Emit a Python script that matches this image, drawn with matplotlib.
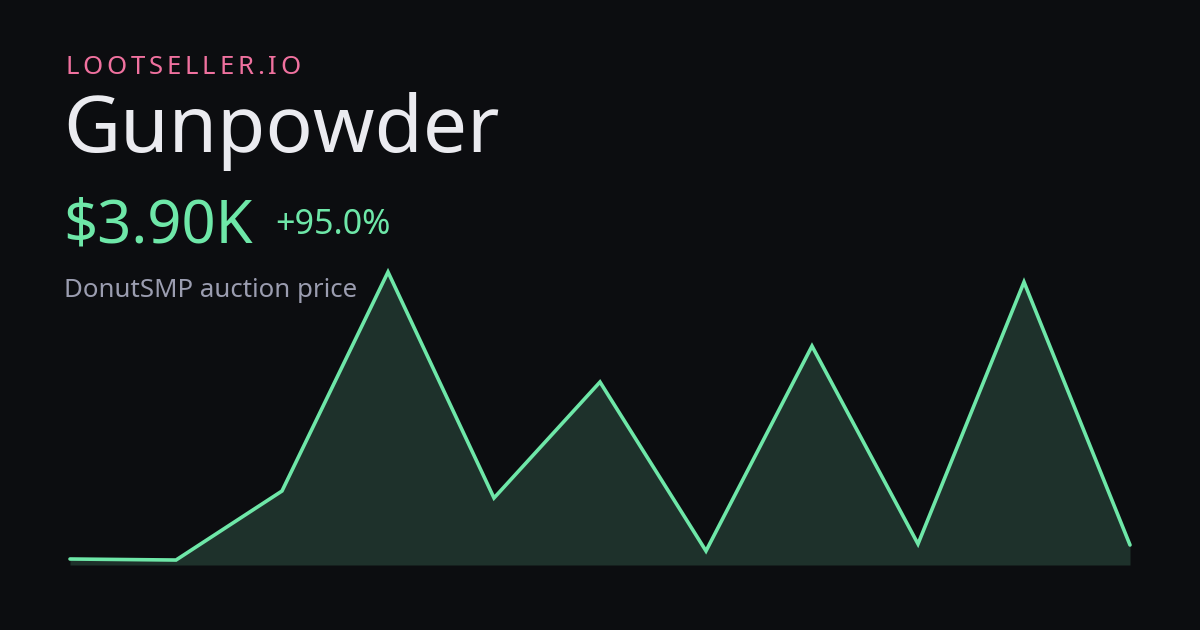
import matplotlib
matplotlib.use("Agg")
import matplotlib.pyplot as plt

# price history (dollars)
prices = [2000, 1860, 11230, 40950, 10280, 26020, 3090, 30900, 4040, 39590, 3900]
y_floor = 1186

site = "LOOTSELLER.IO"
item = "Gunpowder"
price_label = "$3.90K"
change_label = "+95.0%"
subtitle = "DonutSMP auction price"

bg = "#0c0d10"
green = "#6ee7a8"
fill_c = "#1e312b"

plt.rcParams['font.family'] = ['Noto Sans', 'DejaVu Sans']

W, H = 1200, 630
fig = plt.figure(figsize=(12, 6.3), dpi=100, facecolor=bg)

def px(x, y):
    return x / W, 1 - y / H

# chart area
ax = fig.add_axes([70 / W, (H - 565) / H, 1060 / W, 293 / H])
ax.set_facecolor(bg)
xs = list(range(len(prices)))
ax.fill_between(xs, prices, y_floor, color=fill_c, lw=0)
ax.plot(xs, prices, color=green, lw=2.6, solid_capstyle='round',
        solid_joinstyle='miter', clip_on=False)
ax.set_xlim(0, len(prices) - 1)
ax.set_ylim(y_floor, max(prices))
ax.axis('off')

# spaced-out site name
fig.canvas.draw()
r = fig.canvas.get_renderer()
x = 65
for ch in site:
    t = fig.text(*px(x, 74), ch, color="#f0719f", fontsize=18.5, va='baseline')
    w = t.get_window_extent(r).width
    x += w + 3.8

fig.text(*px(63, 152), item, color="#ebebf0", fontsize=56.5, va='baseline')
fig.text(*px(63, 243), price_label, color=green, fontsize=43, va='baseline')
fig.text(*px(275, 234), change_label, color=green, fontsize=24.5, va='baseline')
fig.text(*px(64, 297), subtitle, color="#9b9db0", fontsize=18.6, va='baseline')

fig.savefig("out.png", dpi=100, facecolor=bg)
